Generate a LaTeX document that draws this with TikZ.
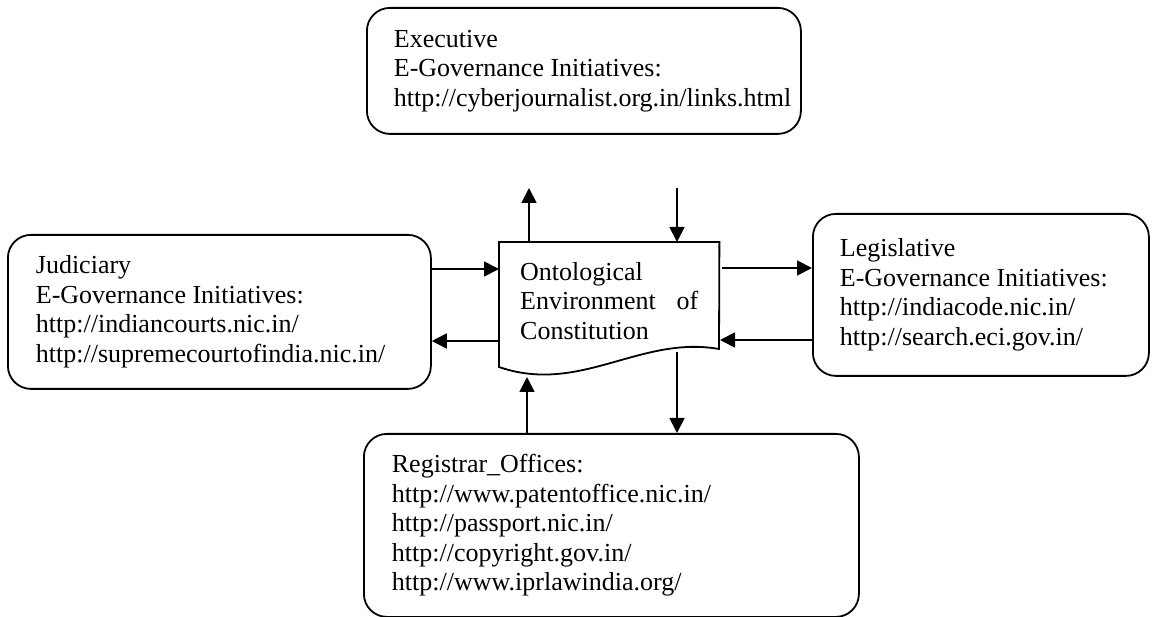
\documentclass[tikz,border=0pt]{standalone}
\usepackage{fontspec}
\setmainfont{Liberation Serif}
\usetikzlibrary{arrows.meta,calc}
\begin{document}
\begin{tikzpicture}[x=1pt,y=-1pt,
  font=\fontsize{26}{29.5}\selectfont,
  box/.style={draw,line width=1.8pt,rounded corners=23pt,anchor=north west,align=flush left,inner sep=0pt},
  arr/.style={line width=1.8pt,-{Triangle[length=15pt,width=15pt]}}]
\useasboundingbox (0,0) rectangle (1152,617);
% boxes
\node[box,minimum width=434pt,minimum height=126pt,text width=380pt] (exe) at (366,7)
  {Executive\\E-Governance Initiatives:\\http://cyberjournalist.org.in/links.html};
\node[box,minimum width=423pt,minimum height=154pt,text width=367pt] (jud) at (7,234)
  {Judiciary\\E-Governance Initiatives:\\http://indiancourts.nic.in/\\http://supremecourtofindia.nic.in/};
\node[box,minimum width=336pt,minimum height=162pt,text width=282pt] (leg) at (812,213)
  {Legislative\\E-Governance Initiatives:\\http://indiacode.nic.in/\\http://search.eci.gov.in/};
\node[box,minimum width=495pt,minimum height=183pt,text width=439pt] (reg) at (363,433)
  {Registrar\_Offices:\\http://www.patentoffice.nic.in/\\http://passport.nic.in/\\http://copyright.gov.in/\\http://www.iprlawindia.org/};
% document shape
\node[anchor=north west,minimum width=220pt,minimum height=117pt,inner sep=0pt,text width=178pt,align=flush left] (doc) at (499,242)
  {Ontological\\\makebox[178pt][s]{Environment of}\\Constitution};
\draw[line width=1.8pt,line join=miter] (doc.north west) -- (doc.north east) -- (719,349)
  .. controls (640,335) and (580,395) .. (499,367) -- cycle;
% free ends
\coordinate (upEnd) at (529,188);
\coordinate (downStart) at (677,188);
\coordinate (botUpEnd) at (527,377);
\coordinate (botDownStart) at (677,352);
% connectors
\draw[arr] (doc.north -| upEnd) -- (upEnd);
\draw[arr] (downStart) -- (downStart |- doc.north);
\draw[arr] (jud.east |- 0,269) -- (doc.west |- 0,269);
\draw[arr] (doc.west |- 0,341) -- (jud.east |- 0,341);
\draw[arr] (722,268) -- (leg.west |- 0,268);
\draw[arr] (leg.west |- 0,340) -- (720,340);
\draw[arr] (reg.north -| botUpEnd) -- (botUpEnd);
\draw[arr] (botDownStart) -- (botDownStart |- reg.north);
\end{tikzpicture}
\end{document}
